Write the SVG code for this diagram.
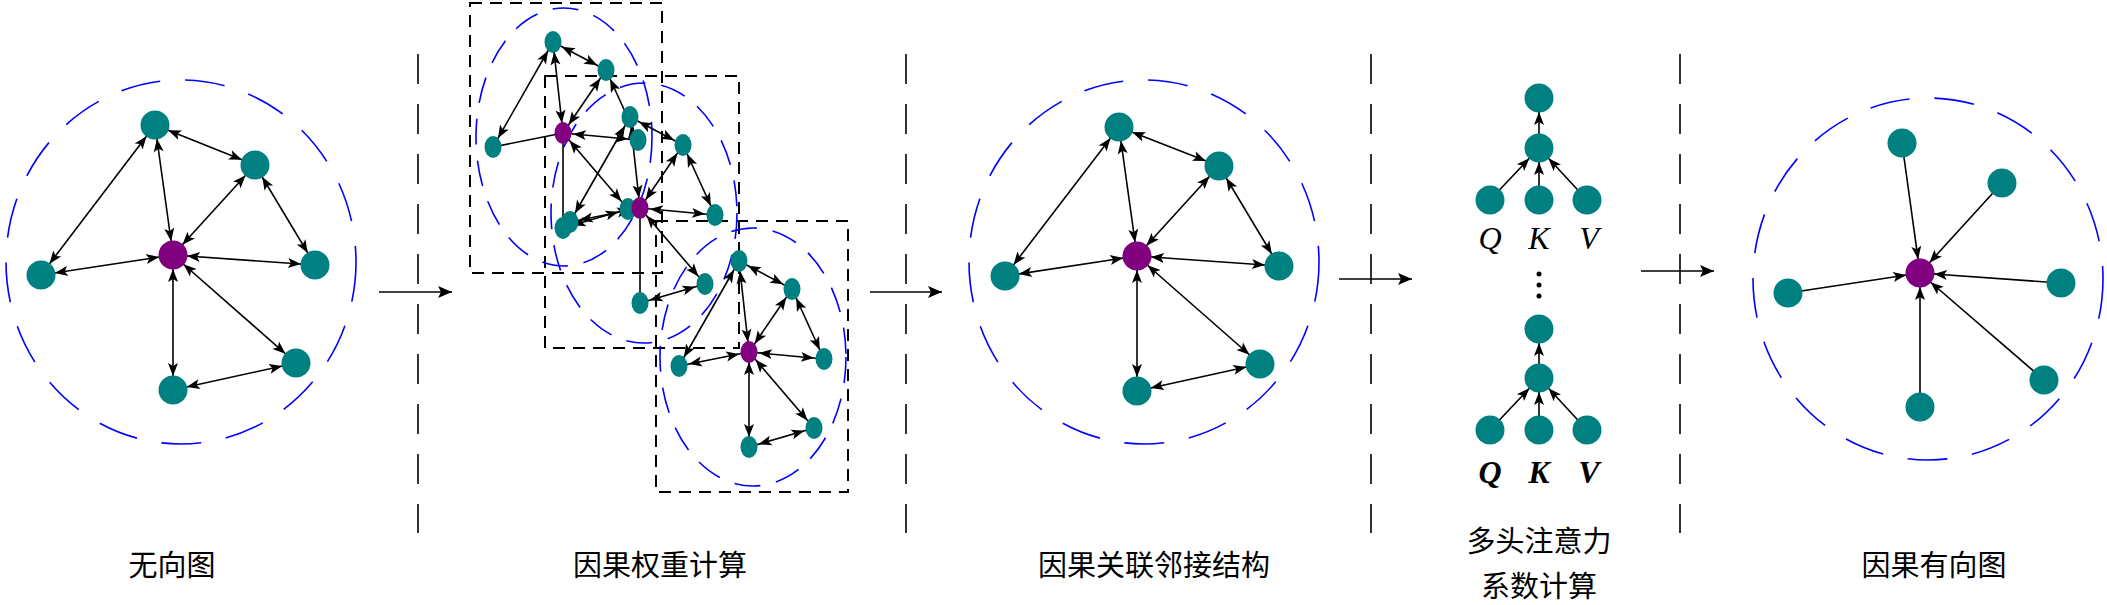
<svg xmlns="http://www.w3.org/2000/svg" width="2107" height="605" viewBox="0 0 2107 605">
<style>
.t{fill:#008080}.p{fill:#800080}
.e{stroke:#000;stroke-width:1.6;fill:none}
.d{stroke:#000;stroke-width:1.6;fill:none;marker-start:url(#as);marker-end:url(#ae)}
.s{stroke:#000;stroke-width:1.6;fill:none;marker-end:url(#ae)}
.ds{stroke:#000;stroke-width:1.6;fill:none;marker-start:url(#bs);marker-end:url(#be)}
.big{fill:none;stroke:#0000ff;stroke-width:1.6;stroke-dasharray:40 25}
.sm{fill:none;stroke:#0000ff;stroke-width:1.6;stroke-dasharray:26 16}
.box{fill:none;stroke:#000;stroke-width:2;stroke-dasharray:12 8}
.sep{stroke:#000;stroke-width:1.6;stroke-dasharray:30 20}
.lab{font-family:"Liberation Serif","Noto Sans CJK SC",serif;font-size:29px;text-anchor:middle}
.q{font-family:"Liberation Serif",serif;font-size:32px;font-style:italic;text-anchor:middle}
</style>
<defs>
<marker id="ae" markerUnits="userSpaceOnUse" orient="auto" refX="27" refY="0" overflow="visible"><path d="M0,-5 L13,0 L0,5 L3,0z"/></marker>
<marker id="as" markerUnits="userSpaceOnUse" orient="auto-start-reverse" refX="27" refY="0" overflow="visible"><path d="M0,-5 L13,0 L0,5 L3,0z"/></marker>
<marker id="be" markerUnits="userSpaceOnUse" orient="auto" refX="23" refY="0" overflow="visible"><path d="M0,-5 L13,0 L0,5 L3,0z"/></marker>
<marker id="bs" markerUnits="userSpaceOnUse" orient="auto-start-reverse" refX="23" refY="0" overflow="visible"><path d="M0,-5 L13,0 L0,5 L3,0z"/></marker>
<marker id="pa" markerUnits="userSpaceOnUse" orient="auto" refX="14" refY="0" overflow="visible"><path d="M0,-6 L14,0 L0,6 L3,0z"/></marker>
</defs>
<g id="separators">
<line class="sep" x1="418" y1="54" x2="418" y2="533"/>
<line class="sep" x1="906" y1="54" x2="906" y2="533"/>
<line class="sep" x1="1371" y1="54" x2="1371" y2="533"/>
<line class="sep" x1="1680" y1="54" x2="1680" y2="533"/>
</g>
<g id="frames">
<ellipse class="big" cx="181" cy="262" rx="175" ry="182"/>
<rect class="box" x="470" y="3" width="192" height="270"/>
<rect class="box" x="545" y="76" width="194" height="272"/>
<rect class="box" x="656" y="221" width="192" height="271"/>
<ellipse class="sm" cx="564" cy="137" rx="88" ry="129"/>
<ellipse class="sm" cx="644" cy="213" rx="93" ry="130"/>
<ellipse class="sm" cx="753" cy="357" rx="93" ry="129"/>
<ellipse class="big" cx="1144" cy="262" rx="175" ry="182"/>
<ellipse class="big" cx="1928" cy="279" rx="175" ry="181"/>
</g>
<g id="connectors">
<line class="e" x1="379" y1="292" x2="452" y2="292" marker-end="url(#pa)"/>
<line class="e" x1="870" y1="292" x2="942" y2="292" marker-end="url(#pa)"/>
<line class="e" x1="1339" y1="279" x2="1412" y2="279" marker-end="url(#pa)"/>
<line class="e" x1="1641" y1="271" x2="1714" y2="271" marker-end="url(#pa)"/>
<!-- panel 1 -->
<line class="d" x1="173" y1="255" x2="155" y2="125"/>
<line class="d" x1="173" y1="255" x2="255" y2="165"/>
<line class="d" x1="173" y1="255" x2="41" y2="275"/>
<line class="d" x1="173" y1="255" x2="315" y2="265"/>
<line class="d" x1="173" y1="255" x2="296" y2="363"/>
<line class="d" x1="173" y1="255" x2="173" y2="390"/>
<line class="d" x1="155" y1="125" x2="255" y2="165"/>
<line class="d" x1="155" y1="125" x2="41" y2="275"/>
<line class="d" x1="255" y1="165" x2="315" y2="265"/>
<line class="d" x1="296" y1="363" x2="173" y2="390"/>
<!-- panel 2 g1 -->
<line class="ds" x1="563" y1="133" x2="553" y2="42"/>
<line class="ds" x1="563" y1="133" x2="606" y2="70"/>
<line class="e" x1="563" y1="133" x2="493" y2="147"/>
<line class="ds" x1="563" y1="133" x2="638" y2="140"/>
<line class="ds" x1="563" y1="133" x2="628" y2="209"/>
<line class="e" x1="563" y1="133" x2="563" y2="228"/>
<line class="ds" x1="553" y1="42" x2="606" y2="70"/>
<line class="ds" x1="553" y1="42" x2="493" y2="147"/>
<line class="ds" x1="606" y1="70" x2="638" y2="140"/>
<line class="ds" x1="628" y1="209" x2="563" y2="228"/>
<!-- g2 -->
<line class="ds" x1="640" y1="208" x2="630" y2="117"/>
<line class="ds" x1="640" y1="208" x2="683" y2="145"/>
<line class="ds" x1="640" y1="208" x2="570" y2="222"/>
<line class="ds" x1="640" y1="208" x2="715" y2="215"/>
<line class="ds" x1="640" y1="208" x2="705" y2="284"/>
<line class="e" x1="640" y1="208" x2="640" y2="303"/>
<line class="ds" x1="630" y1="117" x2="683" y2="145"/>
<line class="ds" x1="630" y1="117" x2="570" y2="222"/>
<line class="ds" x1="683" y1="145" x2="715" y2="215"/>
<line class="ds" x1="705" y1="284" x2="640" y2="303"/>
<!-- g3 -->
<line class="ds" x1="749" y1="352" x2="739" y2="261"/>
<line class="ds" x1="749" y1="352" x2="792" y2="289"/>
<line class="ds" x1="749" y1="352" x2="679" y2="366"/>
<line class="ds" x1="749" y1="352" x2="824" y2="359"/>
<line class="ds" x1="749" y1="352" x2="814" y2="428"/>
<line class="ds" x1="749" y1="352" x2="749" y2="447"/>
<line class="ds" x1="739" y1="261" x2="792" y2="289"/>
<line class="ds" x1="739" y1="261" x2="679" y2="366"/>
<line class="ds" x1="792" y1="289" x2="824" y2="359"/>
<line class="ds" x1="814" y1="428" x2="749" y2="447"/>
<!-- panel 3 -->
<line class="d" x1="1137" y1="256" x2="1119" y2="127"/>
<line class="d" x1="1137" y1="256" x2="1219" y2="166"/>
<line class="d" x1="1137" y1="256" x2="1005" y2="276"/>
<line class="d" x1="1137" y1="256" x2="1279" y2="266"/>
<line class="d" x1="1137" y1="256" x2="1260" y2="364"/>
<line class="d" x1="1137" y1="256" x2="1137" y2="391"/>
<line class="d" x1="1119" y1="127" x2="1219" y2="166"/>
<line class="d" x1="1119" y1="127" x2="1005" y2="276"/>
<line class="d" x1="1219" y1="166" x2="1279" y2="266"/>
<line class="d" x1="1260" y1="364" x2="1137" y2="391"/>
<!-- panel 4 -->
<line class="s" x1="1539" y1="148" x2="1539" y2="98"/>
<line class="s" x1="1490" y1="200" x2="1539" y2="148"/>
<line class="s" x1="1539" y1="200" x2="1539" y2="148"/>
<line class="s" x1="1587" y1="200" x2="1539" y2="148"/>
<line class="s" x1="1539" y1="378" x2="1539" y2="329"/>
<line class="s" x1="1490" y1="430" x2="1539" y2="378"/>
<line class="s" x1="1539" y1="430" x2="1539" y2="378"/>
<line class="s" x1="1587" y1="430" x2="1539" y2="378"/>
<!-- panel 5 -->
<line class="s" x1="1902" y1="143" x2="1920" y2="273"/>
<line class="s" x1="2002" y1="183" x2="1920" y2="273"/>
<line class="s" x1="1788" y1="293" x2="1920" y2="273"/>
<line class="s" x1="2061" y1="283" x2="1920" y2="273"/>
<line class="s" x1="2044" y1="380" x2="1920" y2="273"/>
<line class="s" x1="1920" y1="407" x2="1920" y2="273"/>
</g>
<g id="p1-nodes">
<circle class="t" cx="155" cy="125" r="14.5"/><circle class="t" cx="255" cy="165" r="14.5"/><circle class="t" cx="41" cy="275" r="14.5"/><circle class="t" cx="315" cy="265" r="14.5"/><circle class="t" cx="296" cy="363" r="14.5"/><circle class="t" cx="173" cy="390" r="14.5"/><circle class="p" cx="173" cy="255" r="14.5"/>
</g>
<g id="p2-nodes">
<ellipse class="t" cx="553" cy="42" rx="8.5" ry="11"/><ellipse class="t" cx="606" cy="70" rx="8.5" ry="11"/><ellipse class="t" cx="493" cy="147" rx="8.5" ry="11"/><ellipse class="t" cx="638" cy="140" rx="8.5" ry="11"/><ellipse class="t" cx="628" cy="209" rx="8.5" ry="11"/><ellipse class="t" cx="563" cy="228" rx="8.5" ry="11"/><ellipse class="p" cx="563" cy="133" rx="8.5" ry="11"/>
<ellipse class="t" cx="630" cy="117" rx="8.5" ry="11"/><ellipse class="t" cx="683" cy="145" rx="8.5" ry="11"/><ellipse class="t" cx="570" cy="222" rx="8.5" ry="11"/><ellipse class="t" cx="715" cy="215" rx="8.5" ry="11"/><ellipse class="t" cx="705" cy="284" rx="8.5" ry="11"/><ellipse class="t" cx="640" cy="303" rx="8.5" ry="11"/><ellipse class="p" cx="640" cy="208" rx="8.5" ry="11"/>
<ellipse class="t" cx="739" cy="261" rx="8.5" ry="11"/><ellipse class="t" cx="792" cy="289" rx="8.5" ry="11"/><ellipse class="t" cx="679" cy="366" rx="8.5" ry="11"/><ellipse class="t" cx="824" cy="359" rx="8.5" ry="11"/><ellipse class="t" cx="814" cy="428" rx="8.5" ry="11"/><ellipse class="t" cx="749" cy="447" rx="8.5" ry="11"/><ellipse class="p" cx="749" cy="352" rx="8.5" ry="11"/>
</g>
<g id="p3-nodes">
<circle class="t" cx="1119" cy="127" r="14.5"/><circle class="t" cx="1219" cy="166" r="14.5"/><circle class="t" cx="1005" cy="276" r="14.5"/><circle class="t" cx="1279" cy="266" r="14.5"/><circle class="t" cx="1260" cy="364" r="14.5"/><circle class="t" cx="1137" cy="391" r="14.5"/><circle class="p" cx="1137" cy="256" r="14.5"/>
</g>
<g id="p4-nodes">
<circle class="t" cx="1539" cy="98" r="14.5"/><circle class="t" cx="1539" cy="148" r="14.5"/><circle class="t" cx="1490" cy="200" r="14.5"/><circle class="t" cx="1539" cy="200" r="14.5"/><circle class="t" cx="1587" cy="200" r="14.5"/>
<circle class="t" cx="1539" cy="329" r="14.5"/><circle class="t" cx="1539" cy="378" r="14.5"/><circle class="t" cx="1490" cy="430" r="14.5"/><circle class="t" cx="1539" cy="430" r="14.5"/><circle class="t" cx="1587" cy="430" r="14.5"/>
<circle cx="1539" cy="274" r="2.5"/><circle cx="1539" cy="285" r="2.5"/><circle cx="1539" cy="296" r="2.5"/>
<text class="q" x="1490" y="249">Q</text><text class="q" x="1539" y="249">K</text><text class="q" x="1589" y="249">V</text>
<text class="q" x="1490" y="483" font-weight="bold">Q</text><text class="q" x="1539" y="483" font-weight="bold">K</text><text class="q" x="1589" y="483" font-weight="bold">V</text>
</g>
<g id="p5-nodes">
<circle class="t" cx="1902" cy="143" r="14.5"/><circle class="t" cx="2002" cy="183" r="14.5"/><circle class="t" cx="1788" cy="293" r="14.5"/><circle class="t" cx="2061" cy="283" r="14.5"/><circle class="t" cx="2044" cy="380" r="14.5"/><circle class="t" cx="1920" cy="407" r="14.5"/><circle class="p" cx="1920" cy="273" r="14.5"/>
</g>
<g id="labels">
<text class="lab" x="172" y="576">无向图</text>
<text class="lab" x="660" y="576">因果权重计算</text>
<text class="lab" x="1154" y="576">因果关联邻接结构</text>
<text class="lab" x="1539" y="552">多头注意力</text>
<text class="lab" x="1539" y="597">系数计算</text>
<text class="lab" x="1934" y="576">因果有向图</text>
</g>
</svg>
